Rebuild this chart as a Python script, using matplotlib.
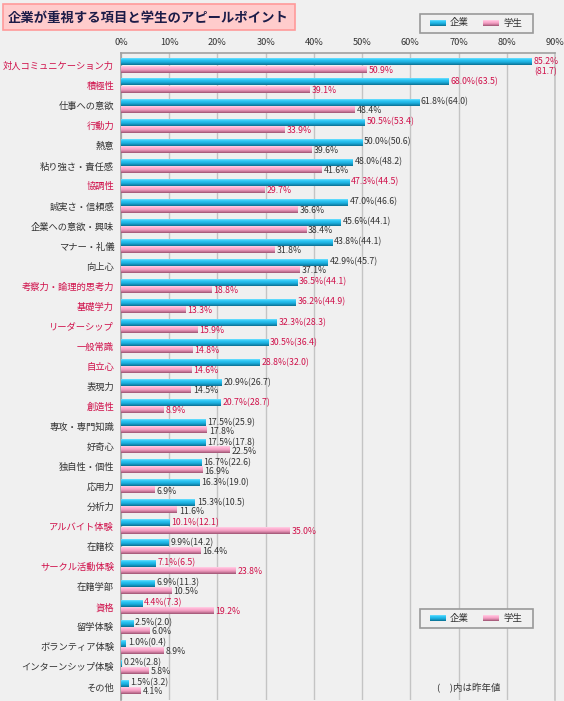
import numpy as np
import matplotlib
matplotlib.use("Agg")
import matplotlib.pyplot as plt
from matplotlib.patches import Rectangle
from matplotlib.colors import LinearSegmentedColormap

plt.rcParams['font.family'] = ['Noto Sans CJK JP', 'DejaVu Sans']

# ---------------------------------------------------------------
# data
# ---------------------------------------------------------------
categories = ["対人コミュニケーション力", "積極性", "仕事への意欲", "行動力", "熱意",
              "粘り強さ・責任感", "協調性", "誠実さ・信頼感", "企業への意欲・興味",
              "マナー・礼儀", "向上心", "考察力・論理的思考力", "基礎学力",
              "リーダーシップ", "一般常識", "自立心", "表現力", "創造性",
              "専攻・専門知識", "好奇心", "独自性・個性", "応用力", "分析力",
              "アルバイト体験", "在籍校", "サークル活動体験", "在籍学部", "資格",
              "留学体験", "ボランティア体験", "インターンシップ体験", "その他"]
company = [85.2, 68.0, 61.8, 50.5, 50.0, 48.0, 47.3, 47.0, 45.6, 43.8, 42.9,
           36.5, 36.2, 32.3, 30.5, 28.8, 20.9, 20.7, 17.5, 17.5, 16.7, 16.3,
           15.3, 10.1, 9.9, 7.1, 6.9, 4.4, 2.5, 1.0, 0.2, 1.5]
company_prev = [81.7, 63.5, 64.0, 53.4, 50.6, 48.2, 44.5, 46.6, 44.1, 44.1, 45.7,
                44.1, 44.9, 28.3, 36.4, 32.0, 26.7, 28.7, 25.9, 17.8, 22.6, 19.0,
                10.5, 12.1, 14.2, 6.5, 11.3, 7.3, 2.0, 0.4, 2.8, 3.2]
student = [50.9, 39.1, 48.4, 33.9, 39.6, 41.6, 29.7, 36.6, 38.4, 31.8, 37.1,
           18.8, 13.3, 15.9, 14.8, 14.6, 14.5, 8.9, 17.8, 22.5, 16.9, 6.9,
           11.6, 35.0, 16.4, 23.8, 10.5, 19.2, 6.0, 8.9, 5.8, 4.1]
highlight = ["対人コミュニケーション力", "積極性", "行動力", "協調性", "考察力・論理的思考力",
             "基礎学力", "リーダーシップ", "一般常識", "自立心", "創造性",
             "アルバイト体験", "サークル活動体験", "資格"]
xticks = [0, 10, 20, 30, 40, 50, 60, 70, 80, 90]

BG = "#f0f0f0"
RED = "#d0104a"
GRAY = "#333333"
VFS = 6.3   # value label font size

blue_cmap = LinearSegmentedColormap.from_list(
    "b", ["#6fe0ff", "#2cc6f4", "#1fb6e6", "#1598c4", "#0a6f90"])
pink_cmap = LinearSegmentedColormap.from_list(
    "p", ["#ffd0e6", "#ffb0d2", "#f4a0c4", "#d07ea0", "#9c5272"])
grad = np.linspace(0, 1, 32).reshape(-1, 1)

fig = plt.figure(figsize=(5.64, 7.01), dpi=100, facecolor=BG)
ax = fig.add_axes([121 / 564, 1 - 700 / 701, 434 / 564, 647 / 701], facecolor=BG)

y = np.arange(len(categories))
h = 0.33
bars_c = ax.barh(y - 0.175, company, height=h, color="none")
bars_s = ax.barh(y + 0.18, student, height=h, color="none")


def paint(bars, cmap):
    for b in bars:
        x0, y0 = b.get_x(), b.get_y()
        w, hh = b.get_width(), b.get_height()
        if w <= 0:
            continue
        ax.imshow(grad, cmap=cmap, aspect="auto", origin="upper",
                  extent=(x0, x0 + w, y0 + hh, y0), zorder=3,
                  interpolation="bilinear")


paint(bars_c, blue_cmap)
paint(bars_s, pink_cmap)

# value labels
for i, cat in enumerate(categories):
    col = RED if cat in highlight else GRAY
    if company[i] > 80:
        txt = f"{company[i]:.1f}%\n({company_prev[i]:.1f})"
        ax.text(company[i] + 0.4, i - 0.175 - 0.25, txt, va="top", ha="left",
                fontsize=VFS, color=col, linespacing=1.15, zorder=5)
    else:
        txt = f"{company[i]:.1f}%({company_prev[i]:.1f})"
        ax.text(company[i] + 0.4, i - 0.2, txt, va="center", ha="left",
                fontsize=VFS, color=col, zorder=5)
    ax.text(student[i] + 0.4, i + 0.23, f"{student[i]:.1f}%", va="center",
            ha="left", fontsize=VFS, color=col, zorder=5)

ax.set_xlim(0, 90)
ax.set_ylim(31.65, -0.63)
ax.set_xticks(xticks)
ax.set_xticklabels([f"{t}%" for t in xticks])
ax.xaxis.tick_top()
ax.tick_params(axis="x", length=0, pad=4, labelsize=6.6, labelcolor=GRAY)
ax.set_yticks(y)
ax.set_yticklabels(categories)
ax.tick_params(axis="y", length=0, pad=5, labelsize=6.7)
for lab, cat in zip(ax.get_yticklabels(), categories):
    lab.set_color(RED if cat in highlight else GRAY)

ax.grid(axis="x", color="#c4c4c4", linewidth=1, zorder=0)
ax.set_axisbelow(True)
for s in ["left", "top", "right"]:
    ax.spines[s].set_color("#a0a0a0")
    ax.spines[s].set_linewidth(1.2)
ax.spines["right"].set_color("#c4c4c4")
ax.spines["bottom"].set_visible(False)

# title box
fig.add_artist(Rectangle((3 / 564, 1 - 30 / 701), 292 / 564, 26 / 701,
                         transform=fig.transFigure, facecolor="#ffcccc",
                         edgecolor="#ff9a9a", linewidth=1.2))
fig.text(8 / 564, 1 - 17.5 / 701, "企業が重視する項目と学生のアピールポイント",
         fontsize=9.6, fontweight="bold", color="#1c1c48", va="center", ha="left")


def legend_box(top_px):
    fig.add_artist(Rectangle((420 / 564, 1 - (top_px + 19) / 701), 113 / 564, 19 / 701,
                             transform=fig.transFigure, facecolor=BG,
                             edgecolor="#999999", linewidth=1.2, zorder=10))
    cy = top_px + 9.5
    for x0, cmap, name in [(430, blue_cmap, "企業"), (483, pink_cmap, "学生")]:
        ax_l = fig.add_axes([x0 / 564, 1 - (cy + 3) / 701, 16 / 564, 6 / 701], zorder=11)
        ax_l.imshow(grad, cmap=cmap, aspect="auto", interpolation="bilinear")
        ax_l.axis("off")
        fig.text((x0 + 20) / 564, 1 - cy / 701, name, fontsize=6.8, color=GRAY,
                 va="center", ha="left", zorder=12)


legend_box(13.5)
legend_box(608.5)

fig.text(437 / 564, 1 - 688 / 701, "(\u3000)内は昨年値", fontsize=6.8, color=GRAY,
         va="center", ha="left")

fig.savefig("out.png", dpi=100, facecolor=BG)
